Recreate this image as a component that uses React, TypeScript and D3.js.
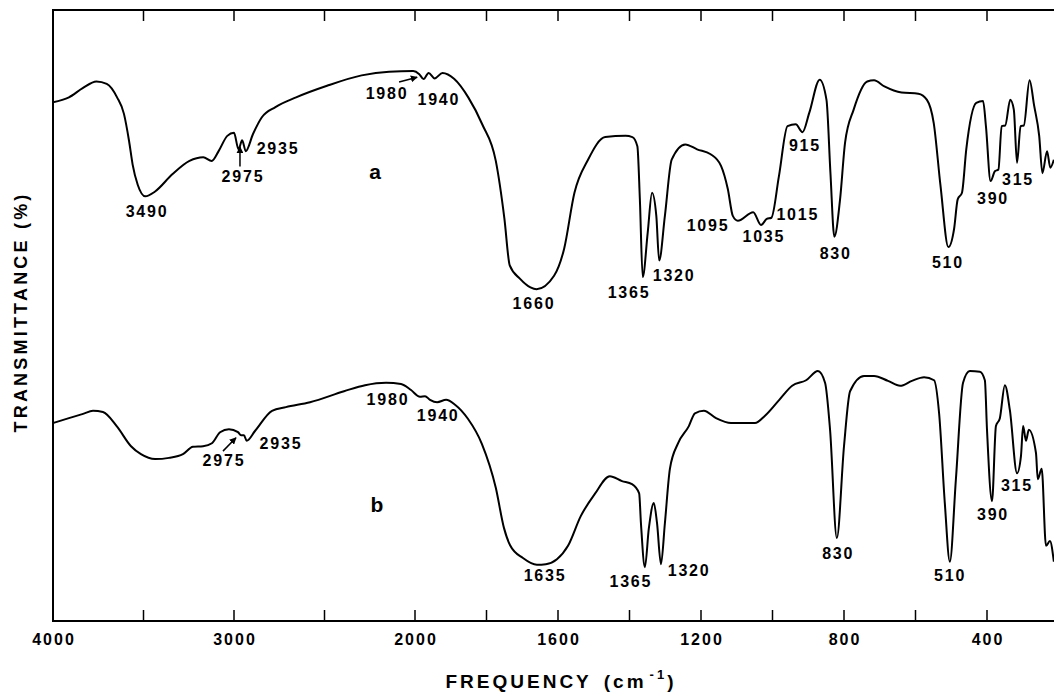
import React, { useRef, useEffect } from 'react';
import * as d3 from 'd3';

// wavenumber (cm-1), transmittance (arbitrary %, shared scale)
const spectrumA: [number, number][] = [
  [4000, 84.9], [3912, 85.7], [3836, 87.2], [3760, 88.3], [3703, 87.9], [3646, 85.7], [3608, 83.0],
  [3580, 78.6], [3560, 74.7], [3532, 71.4], [3490, 69.5], [3436, 70.3], [3341, 73.1], [3246, 75.3],
  [3170, 75.9], [3123, 75.3], [3085, 76.9], [3037, 79.4], [3000, 79.9], [2975, 77.2], [2955, 78.7],
  [2935, 76.9], [2895, 79.7], [2847, 82.4], [2771, 84.1], [2657, 85.7], [2486, 87.6], [2295, 89.3],
  [2143, 89.9], [2010, 90.0], [1988, 89.5], [1976, 88.7], [1962, 89.7], [1945, 88.8], [1923, 89.7],
  [1890, 88.7], [1851, 85.7], [1812, 81.3], [1774, 75.3], [1750, 65.9], [1735, 58.2], [1706, 56.0],
  [1677, 54.6], [1660, 54.3], [1611, 56.5], [1583, 60.9], [1554, 70.1], [1516, 75.5], [1468, 79.2],
  [1411, 79.4], [1392, 79.2], [1378, 77.7], [1371, 69.0], [1363, 56.3], [1349, 63.6], [1337, 70.1],
  [1325, 66.3], [1317, 59.0], [1301, 66.3], [1282, 75.5], [1244, 78.0], [1211, 77.2], [1173, 76.4],
  [1144, 74.5], [1125, 70.7], [1111, 66.3], [1097, 65.5], [1054, 66.9], [1032, 64.8], [1016, 65.8],
  [1003, 66.0], [982, 72.8], [958, 81.0], [935, 81.3], [916, 80.0], [897, 83.2], [868, 88.6],
  [849, 85.3], [838, 73.4], [827, 62.9], [811, 69.0], [797, 78.3], [773, 83.7], [735, 88.3],
  [716, 88.5], [687, 87.5], [639, 86.5], [592, 86.3], [568, 85.3], [549, 81.5], [530, 71.2],
  [508, 61.2], [492, 64.2], [482, 69.0], [470, 70.1], [458, 77.2], [430, 84.8], [411, 85.1],
  [403, 81.0], [390, 72.0], [378, 73.6], [368, 73.9], [359, 81.0], [349, 81.1], [335, 85.3],
  [325, 83.7], [316, 75.0], [306, 81.0], [297, 81.1], [281, 88.5], [268, 84.3], [254, 79.4],
  [245, 73.3], [232, 76.9], [223, 74.2], [213, 75.5],
];

const spectrumB: [number, number][] = [
  [4000, 32.4], [3912, 33.2], [3834, 33.9], [3779, 34.4], [3724, 34.2], [3646, 31.8], [3569, 28.6],
  [3514, 27.3], [3436, 26.5], [3359, 26.7], [3282, 27.3], [3227, 28.5], [3171, 28.6], [3122, 29.1],
  [3077, 30.9], [3028, 31.4], [2978, 30.9], [2961, 30.4], [2945, 30.4], [2930, 29.5], [2884, 31.1],
  [2790, 34.4], [2713, 35.0], [2580, 35.8], [2392, 37.6], [2276, 38.6], [2160, 39.0], [2077, 38.8],
  [2022, 37.8], [1986, 36.7], [1972, 36.8], [1958, 36.2], [1938, 35.8], [1913, 36.2], [1888, 35.4],
  [1852, 33.1], [1813, 29.0], [1774, 21.8], [1751, 15.2], [1734, 12.4], [1698, 10.3], [1659, 9.2],
  [1634, 9.3], [1603, 10.1], [1572, 12.3], [1536, 17.2], [1497, 20.8], [1455, 23.7], [1421, 22.9],
  [1393, 22.4], [1373, 20.9], [1368, 16.0], [1357, 8.8], [1346, 15.1], [1332, 19.3], [1323, 16.0],
  [1312, 9.3], [1301, 16.0], [1287, 24.9], [1264, 29.1], [1234, 31.9], [1217, 34.0], [1192, 34.4],
  [1158, 33.2], [1116, 32.4], [1049, 32.4], [1021, 33.6], [981, 36.2], [945, 38.5], [906, 39.4],
  [873, 40.9], [853, 39.0], [839, 31.3], [820, 13.6], [800, 28.6], [783, 37.6], [744, 40.1],
  [716, 40.1], [677, 39.3], [643, 38.5], [610, 39.3], [576, 39.9], [548, 39.4], [534, 34.0],
  [518, 19.3], [504, 9.7], [487, 23.2], [467, 39.0], [448, 40.9], [420, 40.8], [406, 39.4],
  [400, 31.3], [386, 19.6], [375, 31.9], [364, 33.2], [350, 38.6], [336, 34.5], [316, 24.2],
  [305, 27.0], [299, 31.9], [291, 29.5], [283, 31.3], [263, 27.5], [258, 23.2], [247, 24.9],
  [235, 12.3], [224, 13.1], [213, 9.7],
];

// peak labels: text, wavenumber, transmittance
const peaksA: [string, number, number][] = [
  ['3490', 3486, 67.1], ['2975', 2956, 72.7], ['2935', 2762, 77.3], ['1980', 2160, 86.3],
  ['1940', 1936, 85.4], ['1660', 1670, 52.0], ['1365', 1404, 53.7], ['1320', 1278, 56.5],
  ['1095', 1183, 64.8], ['1035', 1027, 63.0], ['1015', 932, 66.6], ['915', 912, 77.9],
  ['830', 826, 60.2], ['510', 512, 58.6], ['390', 386, 69.2], ['315', 316, 72.3],
];
const peaksB: [string, number, number][] = [
  ['2975', 3061, 26.2], ['2935', 2746, 29.0], ['1980', 2155, 36.3], ['1940', 1938, 33.6],
  ['1635', 1639, 7.4], ['1365', 1399, 6.4], ['1320', 1236, 8.3], ['830', 819, 11.0],
  ['510', 506, 7.4], ['390', 386, 17.5], ['315', 319, 22.1],
];
// arrows: from [nu, T] to [nu, T]
const arrows: [number, number, number, number][] = [
  [2967, 74.4, 2967, 77.6],
  [2088, 88.2, 1994, 89.0],
  [3061, 27.8, 2989, 30.0],
];
const traceNames: [string, number, number][] = [['a', 2221, 73.6], ['b', 2210, 19.0]];

const minorTicks = [3500, 3000, 2500, 2000, 1800, 1600, 1400, 1200, 1000, 800, 600, 400];
const tickLabels = [4000, 3000, 2000, 1600, 1200, 800, 400];

const App = () => {
  const svgRef = useRef<SVGSVGElement>(null);

  useEffect(() => {
    const svg = d3.select(svgRef.current);
    svg.selectAll('*').remove();

    const width = 1054;
    const left = 53, top = 10, bottom = 621;
    const font = "'Liberation Sans', Arial, Helvetica, sans-serif";

    // grating change at 2000 cm-1: scale doubles
    const x = d3.scaleLinear().domain([4000, 2000, 400]).range([left, 415, 987]);
    const y = d3.scaleLinear().domain([0, 100]).range([bottom, top]);

    svg.append('defs').append('marker')
      .attr('id', 'arrowhead')
      .attr('viewBox', '0 0 10 10')
      .attr('refX', 9).attr('refY', 5)
      .attr('markerWidth', 7).attr('markerHeight', 7)
      .attr('markerUnits', 'userSpaceOnUse')
      .attr('orient', 'auto')
      .append('path').attr('d', 'M0,0L10,5L0,10Z').attr('fill', '#000');

    // frame (right edge is cut off)
    const frame = svg.append('g').attr('stroke', '#000').attr('stroke-width', 2).attr('fill', 'none');
    frame.append('path').attr('d', `M${width},${top}H${left}V${bottom}H${width}`);

    frame.selectAll('.tb')
      .data(minorTicks)
      .enter().append('line')
      .attr('x1', d => x(d)).attr('x2', d => x(d))
      .attr('y1', bottom).attr('y2', bottom - 11)
      .attr('stroke-width', 1.5);
    frame.selectAll('.tt')
      .data(minorTicks)
      .enter().append('line')
      .attr('x1', d => x(d)).attr('x2', d => x(d))
      .attr('y1', top).attr('y2', top + 11)
      .attr('stroke-width', 1.5);

    svg.append('g').selectAll('text')
      .data(tickLabels)
      .enter().append('text')
      .attr('x', d => x(d) + 1)
      .attr('y', 639)
      .attr('text-anchor', 'middle')
      .attr('dominant-baseline', 'central')
      .style('font-family', font)
      .style('font-weight', 'bold')
      .style('font-size', '16px')
      .style('letter-spacing', '2px')
      .text(d => d);

    const xt = svg.append('text')
      .attr('x', 561).attr('y', 681)
      .attr('text-anchor', 'middle')
      .attr('dominant-baseline', 'central')
      .style('font-family', font)
      .style('font-weight', 'bold')
      .style('font-size', '19px')
      .style('letter-spacing', '3px');
    xt.append('tspan').text('FREQUENCY');
    xt.append('tspan').attr('dx', 12).text('(cm');
    xt.append('tspan').attr('dx', 3).attr('dy', -7).style('font-size', '13px').text('-1');
    xt.append('tspan').attr('dy', 7).text(')');

    svg.append('text')
      .attr('transform', 'translate(21,312) rotate(-90)')
      .attr('text-anchor', 'middle')
      .attr('dominant-baseline', 'central')
      .style('font-family', font)
      .style('font-weight', 'bold')
      .style('font-size', '18px')
      .style('letter-spacing', '3.2px')
      .text('TRANSMITTANCE  (%)');

    const line = d3.line<[number, number]>()
      .x(d => x(d[0]))
      .y(d => y(d[1]))
      .curve(d3.curveMonotoneX);

    [spectrumA, spectrumB].forEach(s => {
      svg.append('path')
        .datum(s)
        .attr('d', line)
        .attr('fill', 'none')
        .attr('stroke', '#000')
        .attr('stroke-width', 2)
        .attr('stroke-linejoin', 'round');
    });

    svg.append('g').selectAll('text')
      .data([...peaksA, ...peaksB])
      .enter().append('text')
      .attr('x', d => x(d[1]) + 1)
      .attr('y', d => y(d[2]))
      .attr('text-anchor', 'middle')
      .attr('dominant-baseline', 'central')
      .style('font-family', font)
      .style('font-weight', 'bold')
      .style('font-size', '16px')
      .style('letter-spacing', '1.8px')
      .text(d => d[0]);

    svg.append('g').selectAll('text')
      .data(traceNames)
      .enter().append('text')
      .attr('x', d => x(d[1]))
      .attr('y', d => y(d[2]))
      .attr('text-anchor', 'middle')
      .attr('dominant-baseline', 'central')
      .style('font-family', font)
      .style('font-weight', 'bold')
      .style('font-size', '21px')
      .text(d => d[0]);

    svg.append('g').selectAll('line')
      .data(arrows)
      .enter().append('line')
      .attr('x1', d => x(d[0])).attr('y1', d => y(d[1]))
      .attr('x2', d => x(d[2])).attr('y2', d => y(d[3]))
      .attr('stroke', '#000')
      .attr('stroke-width', 1.5)
      .attr('marker-end', 'url(#arrowhead)');
  }, []);

  return (
    <svg
      ref={svgRef}
      width={1054}
      height={694}
      style={{ position: 'absolute', left: 0, top: 0, background: '#fff' }}
    />
  );
};

export default App;
